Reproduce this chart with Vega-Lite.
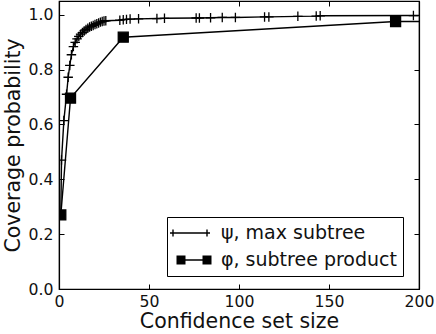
{
  "$schema": "https://vega.github.io/schema/vega-lite/v6.json",
  "width": 360,
  "height": 288,
  "autosize": {"type": "none"},
  "padding": {"left": 59, "top": 1, "right": 17, "bottom": 45},
  "background": "white",
  "config": {
    "font": "DejaVu Sans",
    "view": {"stroke": "black", "strokeWidth": 1.2},
    "axis": {
      "labelFont": "DejaVu Sans",
      "titleFont": "DejaVu Sans",
      "labelFontSize": 15.7,
      "titleFontSize": 20.5,
      "titleFontWeight": "normal",
      "labelColor": "#111",
      "titleColor": "#111",
      "domainColor": "black",
      "domainWidth": 1.2,
      "tickColor": "black",
      "tickWidth": 1,
      "tickSize": -5,
      "grid": false
    }
  },
  "datasets": {
    "pts": [
      {"series": "ψ, max subtree", "v": 1, "p": 0.27},
      {"series": "ψ, max subtree", "v": 1.4, "p": 0.47},
      {"series": "ψ, max subtree", "v": 2.7, "p": 0.614},
      {"series": "ψ, max subtree", "v": 4.2, "p": 0.71},
      {"series": "ψ, max subtree", "v": 5.1, "p": 0.772},
      {"series": "ψ, max subtree", "v": 6.0, "p": 0.815},
      {"series": "ψ, max subtree", "v": 6.9, "p": 0.854},
      {"series": "ψ, max subtree", "v": 8, "p": 0.884},
      {"series": "ψ, max subtree", "v": 9, "p": 0.899},
      {"series": "ψ, max subtree", "v": 10, "p": 0.912},
      {"series": "ψ, max subtree", "v": 11, "p": 0.921},
      {"series": "ψ, max subtree", "v": 12, "p": 0.929},
      {"series": "ψ, max subtree", "v": 13, "p": 0.935},
      {"series": "ψ, max subtree", "v": 14, "p": 0.941},
      {"series": "ψ, max subtree", "v": 15, "p": 0.946},
      {"series": "ψ, max subtree", "v": 16, "p": 0.951},
      {"series": "ψ, max subtree", "v": 17, "p": 0.955},
      {"series": "ψ, max subtree", "v": 18, "p": 0.958},
      {"series": "ψ, max subtree", "v": 19, "p": 0.961},
      {"series": "ψ, max subtree", "v": 20, "p": 0.964},
      {"series": "ψ, max subtree", "v": 21, "p": 0.967},
      {"series": "ψ, max subtree", "v": 22, "p": 0.970},
      {"series": "ψ, max subtree", "v": 23, "p": 0.973},
      {"series": "ψ, max subtree", "v": 24, "p": 0.975},
      {"series": "ψ, max subtree", "v": 25, "p": 0.977},
      {"series": "ψ, max subtree", "v": 26, "p": 0.978},
      {"series": "ψ, max subtree", "v": 33.8, "p": 0.980},
      {"series": "ψ, max subtree", "v": 35.7, "p": 0.982},
      {"series": "ψ, max subtree", "v": 37.5, "p": 0.983},
      {"series": "ψ, max subtree", "v": 39.5, "p": 0.984},
      {"series": "ψ, max subtree", "v": 44.2, "p": 0.985},
      {"series": "ψ, max subtree", "v": 54.4, "p": 0.986},
      {"series": "ψ, max subtree", "v": 58.6, "p": 0.987},
      {"series": "ψ, max subtree", "v": 76.2, "p": 0.988},
      {"series": "ψ, max subtree", "v": 78, "p": 0.988},
      {"series": "ψ, max subtree", "v": 84.2, "p": 0.989},
      {"series": "ψ, max subtree", "v": 90.7, "p": 0.990},
      {"series": "ψ, max subtree", "v": 98, "p": 0.990},
      {"series": "ψ, max subtree", "v": 114.2, "p": 0.992},
      {"series": "ψ, max subtree", "v": 116.6, "p": 0.992},
      {"series": "ψ, max subtree", "v": 132.7, "p": 0.994},
      {"series": "ψ, max subtree", "v": 142.9, "p": 0.995},
      {"series": "ψ, max subtree", "v": 145.1, "p": 0.996},
      {"series": "ψ, max subtree", "v": 196.9, "p": 0.997},
      {"series": "ψ, max subtree", "v": 210, "p": 0.997},
      {"series": "φ, subtree product", "v": 1, "p": 0.27},
      {"series": "φ, subtree product", "v": 6.4, "p": 0.696},
      {"series": "φ, subtree product", "v": 35.7, "p": 0.918},
      {"series": "φ, subtree product", "v": 187, "p": 0.975},
      {"series": "φ, subtree product", "v": 215, "p": 0.976}
    ]
  },
  "data": {"name": "pts"},
  "layer": [
    {
      "mark": {"type": "line", "color": "black", "strokeWidth": 1.4, "clip": true},
      "encoding": {
        "x": {"field": "v", "type": "quantitative",
              "scale": {"domain": [0, 200], "nice": false, "zero": false},
              "axis": {"title": "Confidence set size", "values": [0, 50, 100, 150, 200], "labelPadding": 10, "titlePadding": 3, "labelFlush": false}},
        "y": {"field": "p", "type": "quantitative",
              "scale": {"domain": [0, 1.05], "nice": false},
              "axis": {"title": "Coverage probability", "values": [0, 0.2, 0.4, 0.6, 0.8, 1.0], "format": ".1f", "labelPadding": 11, "titlePadding": 5, "labelFlush": false}},
        "detail": {"field": "series"}
      }
    },
    {
      "mark": {"type": "point", "filled": true, "color": "black", "stroke": "black", "strokeWidth": 1.3, "opacity": 1, "clip": true},
      "encoding": {
        "x": {"field": "v", "type": "quantitative", "axis": null},
        "y": {"field": "p", "type": "quantitative", "axis": null},
        "shape": {"field": "series", "type": "nominal",
                  "scale": {"domain": ["ψ, max subtree", "φ, subtree product"], "range": ["M-1,0H1M0,-1V1", "square"]},
                  "legend": null},
        "size": {"field": "series", "type": "nominal",
                 "scale": {"domain": ["ψ, max subtree", "φ, subtree product"], "range": [90, 100]},
                 "legend": null}
      }
    },
    {
      "transform": [{"filter": "false"}],
      "mark": {"type": "point", "filled": true, "color": "black", "opacity": 1},
      "encoding": {
        "x": {"field": "v", "type": "quantitative", "axis": null},
        "y": {"field": "p", "type": "quantitative", "axis": null},
        "shape": {"field": "series", "type": "nominal",
                  "scale": {"domain": ["ψ, max subtree", "φ, subtree product"],
                            "range": ["M-1.3,-0.07L2.7,-0.07L2.7,0.07L-1.3,0.07ZM-1.07,-0.35L-0.93,-0.35L-0.93,0.35L-1.07,0.35ZM2.33,-0.35L2.47,-0.35L2.47,0.35L2.33,0.35Z", "M-0.2,-0.07L2.4,-0.07L2.4,0.07L-0.2,0.07ZM-0.65,-0.45L0.25,-0.45L0.25,0.45L-0.65,0.45ZM1.95,-0.45L2.85,-0.45L2.85,0.45L1.95,0.45Z"]},
                  "legend": {
                    "title": null,
                    "orient": "none",
                    "legendX": 108,
                    "legendY": 216,
                    "padding": 6,
                    "strokeColor": "black",
                    "fillColor": "white",
                    "symbolSize": 400,
                    "symbolFillColor": "black",
                    "symbolStrokeColor": "transparent",
                    "symbolStrokeWidth": 0,
                    "symbolOpacity": 1,
                    "labelFont": "DejaVu Sans",
                    "labelFontSize": 19,
                    "labelLimit": 400,
                    "labelColor": "#111",
                    "labelOffset": 28,
                    "rowPadding": 7
                  }}
      }
    },
    {
      "transform": [{"filter": "false"}],
      "mark": {"type": "point", "opacity": 0},
      "encoding": {
        "x": {"field": "v", "type": "quantitative",
              "axis": {"orient": "top", "title": null, "labels": false, "values": [0, 50, 100, 150, 200]}},
        "y": {"field": "p", "type": "quantitative",
              "axis": {"orient": "right", "title": null, "labels": false, "values": [0, 0.2, 0.4, 0.6, 0.8, 1.0]}}
      }
    }
  ],
  "resolve": {
    "scale": {"shape": "independent"},
    "axis": {"x": "independent", "y": "independent"}
  }
}
